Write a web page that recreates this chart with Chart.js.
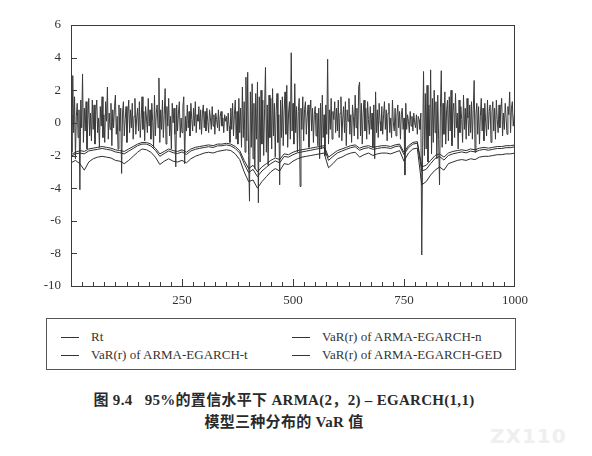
<!DOCTYPE html>
<html>
<head>
<meta charset="utf-8">
<script src="https://cdn.jsdelivr.net/npm/chart.js@4/dist/chart.umd.min.js"></script>
<style>
  html, body { margin: 0; padding: 0; background: #fff; }
  body { width: 592px; height: 456px; position: relative; overflow: hidden; font-family: "Liberation Serif", "Noto Sans CJK SC", serif; color: #333; }
  #wrap { position: absolute; left: 0; top: 0; width: 592px; height: 310px; }
  #legend { position: absolute; left: 46px; top: 318px; width: 470px; height: 52px; border: 1px solid #555; box-sizing: border-box; font-size: 13px; }
  .item { position: absolute; height: 16px; line-height: 16px; white-space: nowrap; }
  .item i { position: absolute; left: 0; top: 8px; width: 18px; border-top: 1px solid #333; }
  .item span { position: absolute; left: 30px; }
  #caption { position: absolute; left: 0; top: 389px; width: 568px; text-align: center; font-weight: bold; font-size: 15px; line-height: 22px; color: #2a2a2a; letter-spacing: 0.3px; }
  #mark { position: absolute; left: 490px; top: 424px; font: bold 20px "DejaVu Sans", sans-serif; color: #efefef; letter-spacing: 1px; }
</style>
</head>
<body>
<div id="wrap"><canvas id="chart"></canvas></div>
<div id="legend"></div>
<div id="caption">图 9.4&nbsp;&nbsp;&nbsp;95%的置信水平下 ARMA(2，2) – EGARCH(1,1)<br>模型三种分布的 VaR 值</div>
<div id="mark">ZX110</div>
<script>
// series labels
const seriesNames = ["Rt", "VaR(r) of ARMA-EGARCH-n", "VaR(r) of ARMA-EGARCH-t", "VaR(r) of ARMA-EGARCH-GED"];

// return series, one value every 2 observations (0..1000)
const RT_STEP = 2;
const rt = [
  0.5, -1.8, 2.9, -0.6, 1.6, -2.2, 0.4, 1.2, -0.9, 0.8, -4.1, 1.4, -0.3, 3.0, -1.2, 0.9, -0.5, 1.3, -1.6, 0.2, 1.5, -0.8, 0.6, -1.1, 1.4,
  -0.4, 1.1, -1.3, 0.7, 1.4, -0.6, 0.3, -1.5, 1.0, -0.2, 1.6, -0.9, 0.5, -1.2, 1.3, 0.1, 2.2, -1.0, 0.6, -0.4, 1.2, -1.4, 0.8, -0.3, 1.0,
  1.7, -0.7, 0.4, -1.6, 1.1, -0.5, 0.9, -3.1, 0.6, 1.3, -0.8, 0.2, 1.0, -1.2, 0.5, 1.4, -0.6, 0.8, -0.3, 1.2, -1.0, 0.4, 1.5, -0.7, 0.3,
  0.9, -0.5, 1.3, -0.9, 0.2, 1.6, -0.4, 0.7, -1.1, 1.0, 0.3, -0.6, 1.5, -0.2, 0.8, -1.0, 1.2, 0.1, -1.5, 1.7, -0.8, 0.6, 1.1, -0.3, 2.75,
  -1.2, 0.8, -0.4, 1.4, -0.9, 0.5, 2.1, -1.3, 1.0, -0.2, 1.5, -0.8, 0.4, -1.6, 1.2, 0.0, 0.9, -0.7, -2.7, 1.1, -0.5, 0.6, 1.3, -0.9, 0.3,
  -0.6, 1.0, 1.6, -2.5, 0.4, -0.5, 1.1, -0.3, 0.7, -0.8, 1.2, 0.2, -0.5, 0.9, -0.2, 1.3, -0.6, 0.5, 0.1, 1.0, -0.4, 0.8, -0.7, 0.6, 1.1,
  -0.3, 0.7, -0.5, 0.9, 0.1, -0.6, 0.8, 0.3, -0.4, 1.0, -0.2, 0.5, -0.7, 0.6, 0.2, -0.3, 0.8, -0.5, 0.4, 0.7, -0.2, 0.3, -0.6, 0.5, 0.1,
  0.4, -0.5, 0.6, -0.2, -1.2, 0.9, -0.4, 1.2, -0.8, 0.5, 1.4, -1.0, 0.7, -1.3, 1.5, -0.6, 0.9, -1.5, 2.2, -0.9, 1.3, -1.8, 2.8, -1.1, 3.1,
  -2.0, -4.8, 1.9, -1.5, 2.4, -2.2, 1.2, -2.8, 1.8, -1.0, 2.5, -4.9, 1.6, -2.4, 2.0, -1.3, 1.4, -2.0, 0.9, 3.4, -1.8, 1.1, -2.6, 1.7, -0.9,
  1.5, -1.6, 2.1, -0.8, 1.2, -2.1, 0.7, 1.8, -1.2, 0.5, -3.8, 1.4, -0.9, 1.6, -1.4, 0.8, 1.9, -0.7, 2.3, -1.5, 0.6, 1.3, -1.0, 4.3, -0.5,
  1.2, -1.3, 2.4, -0.6, 1.0, -1.8, 0.7, 1.5, -3.9, 0.9, -0.4, 1.6, -1.1, 0.8, 1.3, -0.7, 0.4, 1.1, -1.5, 0.6, 1.4, -0.5, 0.9, -1.2, 0.5,
  1.0, -0.8, 0.6, -1.4, 0.9, -2.2, 1.2, -1.6, 1.7, -0.9, 0.5, -2.0, 1.1, -0.7, 3.9, -1.3, 0.8, -0.4, 1.5, -1.0, 0.7, 0.2, 1.3, -0.6, 0.9,
  -0.5, 1.4, -0.9, 0.6, 1.6, -1.1, 0.3, 1.0, -0.6, 1.3, -1.4, 0.8, 0.1, 1.5, -0.7, 0.5, -1.2, 1.1, 0.4, -0.8, 1.7, -0.3, 0.9, -1.0, 2.2,
  2.5, -0.8, 1.2, -1.3, 0.6, 1.4, -0.5, 0.9, -1.0, 1.3, 0.2, -0.7, 1.0, -0.4, 0.6, -1.5, 1.1, -2.2, 1.9, -0.6, 0.8, -0.9, 1.2, 0.1, -0.5,
  1.0, -0.7, 0.5, 1.3, -0.4, 0.8, -1.1, 0.6, 1.2, -0.6, 0.3, -0.9, 1.4, 0.0, -0.5, 0.9, -0.8, 0.4, 1.1, -0.3, 0.7, -1.0, 0.5, 0.9, -0.4,
  0.3, -3.2, 1.2, -0.4, 0.5, 0.1, -0.6, 0.7, -0.2, 0.4, -0.5, 0.6, 0.0, -0.3, 0.5, -0.7, 0.4, 0.2, -0.4, 0.6, -8.1, -1.5, 3.15, -2.0, 1.8,
  -1.6, 2.3, -2.4, 1.1, -0.8, 3.25, -1.9, 1.5, -1.2, 2.0, -0.6, 1.3, -2.2, 1.7, -1.0, -3.8, 0.9, 3.2, -1.5, 1.2, -0.7, 1.9, -1.3, 0.8, 1.4,
  -1.1, 1.6, -0.5, 2.0, -1.4, 0.7, 1.2, -0.9, 1.8, -0.3, 0.6, -1.6, 1.4, -0.6, 1.0, 0.2, -1.2, 1.7, -0.4, 0.9, -1.0, 1.5, 0.3, -0.8, 1.1,
  -0.6, 1.3, -1.0, 0.8, 2.6, -1.8, 0.5, 1.2, -0.7, 1.0, -1.3, 0.4, 1.5, -0.5, 0.9, -1.1, 1.2, 0.0, -0.8, 1.4, -0.4, 0.7, 1.1, -1.2, 0.6,
  1.3, -0.5, 0.9, -1.0, 1.4, 0.2, -0.6, 1.1, -0.3, 0.8, 1.5, -0.8, 0.6, -0.4, 1.2, 0.3, -0.7, 1.0, 0.5, 1.9, -0.6, 0.9, 1.3, -0.2, 0.4, 0.8
];

// VaR series, one value every 10 observations (0..1000)
const VAR_STEP = 10;
const varN = [
  -1.95, -1.8, -1.7, -1.75, -1.6, -1.55, -1.5, -1.45, -1.5, -1.55,
  -1.65, -1.7, -1.75, -1.6, -1.45, -1.3, -1.2, -1.2, -1.3, -1.55,
  -1.9, -1.75, -1.6, -1.7, -1.75, -1.65, -1.8, -1.6, -1.5, -1.45,
  -1.4, -1.35, -1.4, -1.3, -1.3, -1.25, -1.3, -1.45, -1.7, -2.3,
  -2.8, -2.6, -3.0, -2.7, -2.5, -2.3, -2.15, -2.25, -1.9, -1.95,
  -1.8, -1.7, -1.65, -1.6, -1.55, -1.5, -1.45, -1.4, -2.1, -1.9,
  -1.7, -1.6, -1.5, -1.4, -1.35, -1.55, -1.45, -1.4, -1.5, -1.45,
  -1.4, -1.4, -1.45, -1.35, -1.3, -1.8, -1.4, -1.2, -1.15, -2.7,
  -2.6, -2.3, -2.0, -1.9, -2.1, -1.85, -1.75, -1.7, -1.65, -1.7,
  -1.6, -1.65, -1.55, -1.5, -1.55, -1.5, -1.45, -1.45, -1.4, -1.4,
  -1.35
];
const varT = [
  -2.45, -2.3, -2.5, -2.9, -2.4, -2.2, -2.1, -2.05, -2.1, -2.15,
  -2.3, -2.35, -2.5, -2.3, -2.05, -1.8, -1.6, -1.65, -1.8, -2.1,
  -2.55, -2.35, -2.2, -2.35, -2.4, -2.3, -2.45, -2.2, -2.05, -1.95,
  -1.85, -1.8, -1.85, -1.75, -1.7, -1.65, -1.7, -1.9, -2.25, -3.0,
  -3.6, -3.5, -4.0, -3.6, -3.3, -3.0, -2.8, -2.95, -2.5, -2.55,
  -2.35, -2.2, -2.1, -2.05, -2.0, -1.95, -1.9, -1.85, -2.75, -2.5,
  -2.2, -2.1, -1.95, -1.85, -1.8, -2.1, -1.95, -1.85, -2.0, -1.9,
  -1.85, -1.85, -1.9, -1.8, -1.7, -2.35, -1.85, -1.6, -1.55, -3.8,
  -3.6, -3.2, -2.9, -2.7, -2.9, -2.5, -2.4, -2.3, -2.25, -2.3,
  -2.2, -2.25, -2.1, -2.05, -2.05, -2.0, -1.95, -1.95, -1.9, -1.9,
  -1.85
];
const varGED = [
  -2.05, -1.9, -1.85, -1.9, -1.72, -1.67, -1.62, -1.57, -1.62, -1.67,
  -1.78, -1.83, -1.9, -1.73, -1.57, -1.4, -1.3, -1.3, -1.42, -1.68,
  -2.05, -1.88, -1.72, -1.83, -1.88, -1.78, -1.94, -1.72, -1.62, -1.56,
  -1.51, -1.46, -1.51, -1.41, -1.4, -1.35, -1.41, -1.57, -1.85, -2.5,
  -3.05, -2.85, -3.3, -2.95, -2.72, -2.5, -2.33, -2.45, -2.06, -2.1,
  -1.95, -1.84, -1.78, -1.73, -1.68, -1.62, -1.57, -1.52, -2.3, -2.06,
  -1.84, -1.73, -1.62, -1.52, -1.46, -1.68, -1.57, -1.52, -1.62, -1.57,
  -1.52, -1.52, -1.57, -1.46, -1.41, -1.95, -1.52, -1.3, -1.25, -2.95,
  -2.85, -2.5, -2.18, -2.06, -2.28, -2.0, -1.9, -1.84, -1.78, -1.84,
  -1.73, -1.78, -1.68, -1.62, -1.68, -1.62, -1.57, -1.57, -1.52, -1.52,
  -1.46
];

// axis tick values
const xTickLabels = [250, 500, 750, 1000];
const yRange = { min: -10, max: 6, step: 2 };

const ink = "#2e2e2e";
const axisFont = { family: "'Liberation Serif', serif", size: 13 };

function toPoints(values, step) {
  return values.map((v, i) => ({ x: i * step, y: v }));
}

// inward ticks and closed frame like the scanned figure
const frameTicks = {
  id: "frameTicks",
  afterDraw(chart) {
    const { ctx, chartArea: a, scales } = chart;
    const x = scales.x, y = scales.y;
    ctx.save();
    ctx.strokeStyle = "#3a3a3a";
    ctx.lineWidth = 1;
    ctx.strokeRect(a.left + 0.5, a.top + 0.5, a.right - a.left - 1, a.bottom - a.top);
    ctx.beginPath();
    for (let v = 25; v < 1000; v += 25) {
      const px = Math.round(x.getPixelForValue(v)) + 0.5;
      const len = v % 250 === 0 ? 7 : 4;
      ctx.moveTo(px, a.bottom);
      ctx.lineTo(px, a.bottom - len);
    }
    y.ticks.forEach((t) => {
      if (t.value === yRange.min || t.value === yRange.max) return;
      const py = Math.round(y.getPixelForValue(t.value)) + 0.5;
      ctx.moveTo(a.left, py);
      ctx.lineTo(a.left + 6, py);
    });
    ctx.stroke();
    ctx.restore();
  },
};

const ctx = document.getElementById("chart").getContext("2d");
new Chart(ctx, {
  type: "line",
  data: {
    datasets: [
      { label: seriesNames[0], data: toPoints(rt, RT_STEP), borderColor: "#3a3a3a", borderWidth: 1, order: 4 },
      { label: seriesNames[1], data: toPoints(varN, VAR_STEP), borderColor: ink, borderWidth: 1, order: 3 },
      { label: seriesNames[2], data: toPoints(varT, VAR_STEP), borderColor: ink, borderWidth: 1, order: 2 },
      { label: seriesNames[3], data: toPoints(varGED, VAR_STEP), borderColor: ink, borderWidth: 1, order: 1 },
    ],
  },
  options: {
    responsive: true,
    maintainAspectRatio: false,
    animation: false,
    layout: { padding: { top: 25, right: 77, left: 0, bottom: 0 } },
    elements: { point: { radius: 0 }, line: { tension: 0 } },
    plugins: { legend: { display: false }, tooltip: { enabled: false } },
    scales: {
      x: {
        type: "linear",
        min: 0,
        max: 1000,
        afterFit: (s) => { s.height = 24; },
        afterBuildTicks: (s) => { s.ticks = xTickLabels.map((v) => ({ value: v })); },
        grid: { display: false, drawTicks: false },
        border: { display: false },
        ticks: { color: "#333", font: axisFont, padding: 7, maxRotation: 0, callback: (v) => String(v) },
      },
      y: {
        min: yRange.min,
        max: yRange.max,
        afterFit: (s) => { s.width = 71; },
        grid: { display: false, drawTicks: false },
        border: { display: false },
        ticks: { stepSize: yRange.step, color: "#333", font: axisFont, padding: 10 },
      },
    },
  },
  plugins: [frameTicks],
});

// two-column boxed legend below the plot
const legendPos = [
  { left: 14, top: 10 }, { left: 245, top: 10 },
  { left: 14, top: 28 }, { left: 245, top: 28 },
];
const legend = document.getElementById("legend");
seriesNames.forEach((name, i) => {
  const d = document.createElement("div");
  d.className = "item";
  d.style.left = legendPos[i].left + "px";
  d.style.top = legendPos[i].top + "px";
  d.innerHTML = "<i></i><span>" + name + "</span>";
  legend.appendChild(d);
});
</script>
</body>
</html>
